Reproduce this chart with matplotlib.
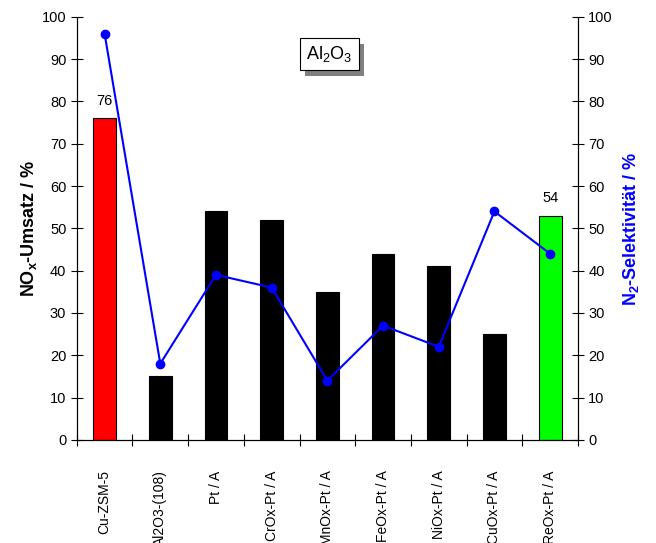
import numpy as np
import matplotlib
matplotlib.use('Agg')
import matplotlib.pyplot as plt
from matplotlib.patches import Rectangle

plt.rcParams['font.family'] = 'Liberation Sans'
plt.rcParams['font.size'] = 10
plt.rcParams['mathtext.fontset'] = 'custom'
plt.rcParams['mathtext.rm'] = 'Liberation Sans'
plt.rcParams['mathtext.bf'] = 'Liberation Sans:bold'

categories = ['Cu-ZSM-5', 'Al2O3-(108)', 'Pt / A', 'CrOx-Pt / A', 'MnOx-Pt / A',
              'FeOx-Pt / A', 'NiOx-Pt / A', 'CuOx-Pt / A', 'ReOx-Pt / A']
nox_umsatz = [76, 15, 54, 52, 35, 44, 41, 25, 53]
n2_selekt = [96, 18, 39, 36, 14, 27, 22, 54, 44]
bar_colors = ['#ff0000', 'black', 'black', 'black', 'black', 'black', 'black', 'black', '#00ff00']
value_labels = {0: '76', 8: '54'}

fig = plt.figure(figsize=(6.56, 5.43), dpi=100)
ax = fig.add_axes([0.117, 0.19, 0.764, 0.779])
x = np.arange(len(categories))
ax.bar(x, nox_umsatz, width=0.41, color=bar_colors, edgecolor='black', linewidth=0.8, zorder=2)
for i, lab in value_labels.items():
    ax.text(x[i], nox_umsatz[i] + 2.5, lab, ha='center', va='bottom', fontsize=10.5)

ax.set_xlim(-0.5, len(categories) - 0.5)
ax.set_ylim(0, 100)
ax.set_yticks(range(0, 101, 10))
ax.set_xticks(np.arange(len(categories) + 1) - 0.5)
ax.set_xticklabels([])
ax.set_xticks(x, minor=True)
ax.set_xticklabels(categories, minor=True, rotation=90, va='top', ha='center')
ax.tick_params(axis='x', which='minor', length=0, pad=22)
ax.tick_params(axis='x', which='major', direction='inout', length=8)
ax.tick_params(axis='y', direction='inout', length=8, labelsize=10.5)
ax.spines['top'].set_visible(False)
ax.set_ylabel('NO$\\mathbf{_x}$-Umsatz / %', fontsize=13, fontweight='bold', labelpad=2)

ax2 = ax.twinx()
ax2.plot(x, n2_selekt, color='#0000ff', lw=1.5, marker='o', markersize=6, zorder=3)
ax2.set_ylim(0, 100)
ax2.set_yticks(range(0, 101, 10))
ax2.tick_params(axis='y', direction='inout', length=8, labelsize=10.5)
ax2.spines['top'].set_visible(False)
ax2.set_ylabel('N$\\mathbf{_2}$-Selektivität / %', fontsize=13, fontweight='bold',
               color='#0000ff', labelpad=6)

# Al2O3 box with grey drop shadow
t = ax2.text(4.04, 91.2, 'Al$_2$O$_3$', ha='center', va='center', fontsize=13,
             bbox=dict(boxstyle='square,pad=0.35', fc='white', ec='black', lw=0.8), zorder=5)
fig.canvas.draw()
bb = t.get_bbox_patch().get_window_extent()
fig.patches.append(Rectangle((bb.x0 + 5, bb.y0 - 6), bb.width, bb.height,
                             transform=None, fc='#808080', ec='none', zorder=1))
ax.set_zorder(1)
ax2.set_zorder(2)
ax.patch.set_visible(False)

fig.savefig('out.png', dpi=100)
